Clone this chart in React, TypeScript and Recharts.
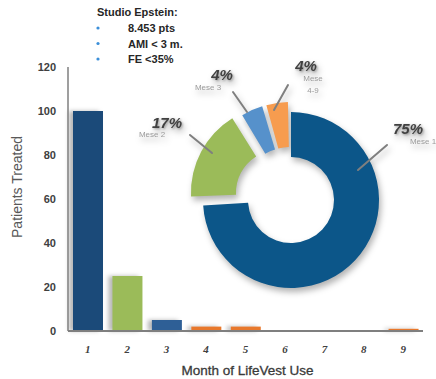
import React from 'react';
import { BarChart, Bar, XAxis, YAxis, Cell, PieChart, Pie, Label } from 'recharts';

// bar chart data
const months = ['1', '2', '3', '4', '5', '6', '7', '8', '9'];
const patients = [100, 25, 5, 2, 2, 0, 0, 0, 1];
const barColors = ['#1b4a79', '#9bbb59', '#2e5f96', '#e8782c', '#e8782c', '#e8782c', '#e8782c', '#e8782c', '#e8782c'];
const yTicks = [0, 20, 40, 60, 80, 100, 120];

// donut data
const sliceNames = ['Mese 1', 'Mese 2', 'Mese 3', 'Mese 4-9'];
const slicePercents = [75, 17, 4, 4];
const sliceColors = ['#0c5689', '#9bbb59', '#5691cb', '#f79c4f'];

// notes
const noteTitle = 'Studio Epstein:';
const notes = ['8.453 pts', 'AMI < 3 m.', 'FE <35%'];

const W = 436;
const H = 379;
const FONT = '"Liberation Sans", Arial, sans-serif';
const CX = 286;
const CY = 195;
const explode = [0, 14, 10, 10];

// label placement relative to the donut centre
const labelLayout = [
  { line: [72, -25, 101, -50], pct: [122, -67], name: [137, -54], nameLines: ['Mese 1'] },
  { line: [-96, -60, -74, -42], pct: [-119, -73], name: [-134, -61], nameLines: ['Mese 2'] },
  { line: [-53, -103, -39, -83], pct: [-64, -121], name: [-78, -108], nameLines: ['Mese 3'] },
  { line: [2, -110, -12, -85], pct: [20, -130], name: [27, -117], nameLines: ['Mese', '4-9'] },
];

const barData = months.map((m, i) => ({ month: m, patients: patients[i] }));
const pieData = sliceNames.map((n, i) => ({ name: n, value: slicePercents[i] }));
const total = slicePercents.reduce((a, b) => a + b, 0);

function sliceOffset(i: number) {
  const before = slicePercents.slice(0, i).reduce((a, b) => a + b, 0);
  const mid = ((before + slicePercents[i] / 2) / total) * 2 * Math.PI;
  return { dx: explode[i] * Math.sin(mid), dy: -explode[i] * Math.cos(mid) };
}

const ShadowBar = (props: any) => {
  const { x, y, width, height, fill } = props;
  if (!height || height <= 0) return null;
  return (
    <rect
      x={x}
      y={y}
      width={width}
      height={height}
      fill={fill}
      style={{ filter: 'drop-shadow(-4px 0px 2px rgba(0,0,0,0.28))' }}
    />
  );
};

const makeLabel = (i: number) => (props: any) => {
  if (props.index !== i) return null;
  const L = labelLayout[i];
  return (
    <g>
      <line
        x1={CX + L.line[0]}
        y1={CY + L.line[1]}
        x2={CX + L.line[2]}
        y2={CY + L.line[3]}
        stroke="#7f7f7f"
        strokeWidth={2}
        strokeLinecap="round"
      />
      <text
        x={CX + L.pct[0]}
        y={CY + L.pct[1]}
        textAnchor="middle"
        dominantBaseline="central"
        fontFamily={FONT}
        fontSize={15}
        fontWeight="bold"
        fontStyle="italic"
        fill="#404040"
        style={{ filter: 'drop-shadow(1px 1px 1px rgba(0,0,0,0.35))' }}
      >
        {slicePercents[i]}%
      </text>
      {L.nameLines.map((t, k) => (
        <text
          key={k}
          x={CX + L.name[0]}
          y={CY + L.name[1] + k * 12}
          textAnchor="middle"
          dominantBaseline="central"
          fontFamily={FONT}
          fontSize={8}
          fill="#9a9a9a"
        >
          {t}
        </text>
      ))}
    </g>
  );
};

export default function App() {
  return (
    <div style={{ position: 'absolute', left: 0, top: 0, width: W, height: H, background: '#fff' }}>
      <BarChart
        width={W}
        height={H}
        data={barData}
        margin={{ top: 67, right: 13, bottom: 0, left: 0 }}
        barSize={30}
      >
        <XAxis
          dataKey="month"
          height={48}
          axisLine={{ stroke: '#7f7f7f', strokeWidth: 2 }}
          tickLine={false}
          tickMargin={8}
          tick={{ fontFamily: '"Liberation Serif", serif', fontStyle: 'italic', fontWeight: 'bold', fontSize: 11, fill: '#404040' }}
        >
          <Label
            content={({ viewBox }: any) => (
              <text
                x={viewBox.x + viewBox.width / 2 + 2}
                y={370}
                textAnchor="middle"
                dominantBaseline="central"
                fontFamily={FONT}
                fontSize={13.5}
                fill="#3a3a3a"
                stroke="#3a3a3a"
                strokeWidth={0.3}
              >
                Month of LifeVest Use
              </text>
            )}
          />
        </XAxis>
        <YAxis
          width={68}
          domain={[0, 120]}
          ticks={yTicks}
          interval={0}
          axisLine={{ stroke: '#7f7f7f', strokeWidth: 1.5 }}
          tickLine={false}
          tickSize={0}
          tickMargin={12}
          tick={{ fontFamily: FONT, fontWeight: 'bold', fontSize: 11, fill: '#404040' }}
        >
          <Label
            content={({ viewBox }: any) => {
              const y = viewBox.y + viewBox.height / 2 - 12;
              return (
                <text
                  x={17}
                  y={y}
                  transform={`rotate(-90, 17, ${y})`}
                  textAnchor="middle"
                  dominantBaseline="central"
                  fontFamily={FONT}
                  fontSize={14}
                  fill="#595959"
                >
                  Patients Treated
                </text>
              );
            }}
          />
        </YAxis>
        <Bar dataKey="patients" isAnimationActive={false} shape={ShadowBar}>
          {barData.map((d, i) => (
            <Cell key={d.month} fill={barColors[i]} />
          ))}
        </Bar>
      </BarChart>

      <div style={{ position: 'absolute', left: 0, top: 0, pointerEvents: 'none' }}>
        <PieChart width={W} height={H} style={{ filter: 'drop-shadow(2px 4px 3px rgba(0,0,0,0.3))' }}>
          {sliceNames.map((n, i) => {
            const o = sliceOffset(i);
            return (
              <Pie
                key={n}
                data={pieData}
                dataKey="value"
                nameKey="name"
                cx={CX + o.dx}
                cy={CY + o.dy}
                innerRadius={43}
                outerRadius={88}
                startAngle={90}
                endAngle={-270}
                paddingAngle={1.2}
                stroke="none"
                isAnimationActive={false}
                labelLine={false}
                label={makeLabel(i)}
              >
                {pieData.map((d, j) => (
                  <Cell key={d.name} fill={j === i ? sliceColors[j] : 'none'} />
                ))}
              </Pie>
            );
          })}
        </PieChart>
      </div>

      <svg width={W} height={80} style={{ position: 'absolute', left: 0, top: 0 }}>
        <text x={97} y={12} dominantBaseline="central" fontFamily={FONT} fontSize={11} fontWeight="bold" fill="#262626">
          {noteTitle}
        </text>
        {notes.map((t, i) => (
          <g key={t}>
            <circle cx={98} cy={28 + i * 15.5} r={1.6} fill="#3b8fd9" />
            <text x={128} y={28 + i * 15.5} dominantBaseline="central" fontFamily={FONT} fontSize={11} fontWeight="bold" fill="#262626">
              {t}
            </text>
          </g>
        ))}
      </svg>
    </div>
  );
}
